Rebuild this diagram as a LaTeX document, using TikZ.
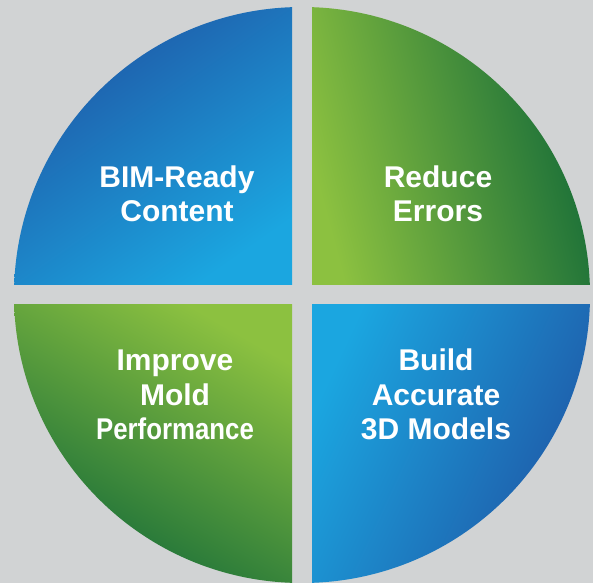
\documentclass[tikz,border=0pt]{standalone}
\usepackage{fontspec}
\setmainfont{Liberation Sans}
\usetikzlibrary{calc}
\definecolor{bggray}{HTML}{D1D3D4}
\definecolor{darkblue}{HTML}{1F56A5}
\definecolor{lightblue}{HTML}{1BA6E0}
\definecolor{darkgreen}{HTML}{136A38}
\definecolor{lightgreen}{HTML}{8CC140}
\begin{document}
\begin{tikzpicture}[x=1pt,y=1pt,
  quadtext/.style={text=white,font=\bfseries\fontsize{30}{34.5}\selectfont,align=center,anchor=base}]

  % Background
  \fill[bggray] (0,0) rectangle (593,583);

  % Centre of the disc
  \coordinate (c) at (302,288);

  % Four quarters, cut apart by a cross
  \begin{scope}
    \clip (c) circle (288);
    \shade[top color=darkblue,bottom color=lightblue,shading angle=35]
      ($(c)+(-288,10)$) rectangle ($(c)+(-10,288)$);
    \shade[top color=darkgreen,bottom color=lightgreen,shading angle=-75]
      ($(c)+(10,10)$) rectangle ($(c)+(288,288)$);
    \shade[top color=darkgreen,bottom color=lightgreen,shading angle=150]
      ($(c)+(-288,-288)$) rectangle ($(c)+(-10,-10)$);
    \shade[top color=darkblue,bottom color=lightblue,shading angle=-115]
      ($(c)+(10,-288)$) rectangle ($(c)+(288,-10)$);
  \end{scope}

  % Labels (anchored at the last baseline)
  \node[quadtext] (bim)    at (177,361) {BIM-Ready\\Content};
  \node[quadtext] (errors) at (438,361) {Reduce\\Errors};
  \node[quadtext] (mold)   at (175,143) {Improve\\Mold\\\scalebox{0.86}[1]{Performance}};
  \node[quadtext] (models) at (436,143) {Build\\Accurate\\3D Models};

\end{tikzpicture}
\end{document}
